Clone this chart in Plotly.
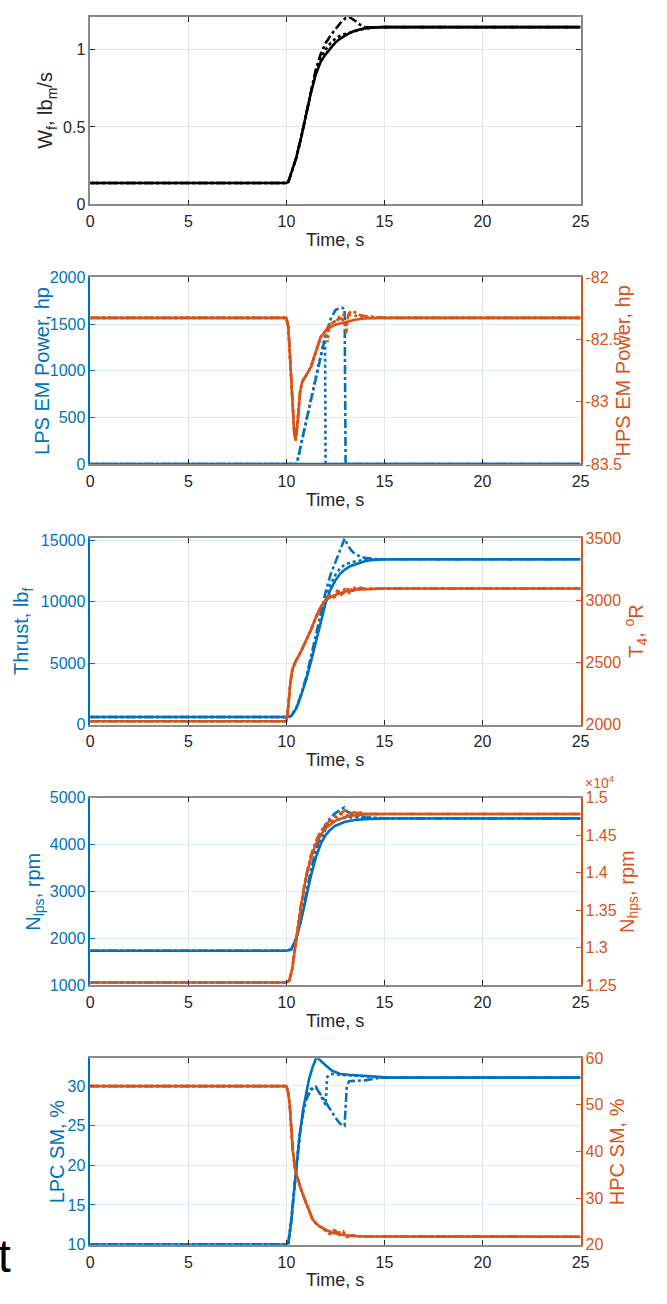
import plotly.graph_objects as go

W, H = 667, 1304
BLUE = "#0072BD"
ORANGE = "#D95319"
INK = "#262626"
FONT = "Liberation Sans, Arial, Helvetica, sans-serif"

# ---------------- data ----------------
time_ticks = [0, 5, 10, 15, 20, 25]

# Panel 1: fuel flow
wf_t = [0, 10, 10.1, 10.25, 10.5, 10.75, 11, 11.25, 11.5, 11.75, 12, 12.25, 12.5, 12.75, 13, 13.25, 13.5, 13.75, 14, 14.5, 15, 25]
wf_solid = [0.138, 0.138, 0.145, 0.2, 0.3, 0.43, 0.58, 0.72, 0.84, 0.92, 0.968, 1.01, 1.045, 1.07, 1.09, 1.108, 1.12, 1.13, 1.136, 1.142, 1.144, 1.144]
wf_dot = [0.138, 0.138, 0.145, 0.2, 0.3, 0.43, 0.58, 0.725, 0.855, 0.945, 1.0, 1.04, 1.07, 1.09, 1.1, 1.108, 1.117, 1.127, 1.135, 1.142, 1.144, 1.144]
wf_dd_t = [0, 10, 10.1, 10.25, 10.5, 10.75, 11, 11.25, 11.5, 11.75, 12, 12.25, 12.5, 12.75, 13, 13.2, 13.5, 13.75, 14, 14.25, 15, 25]
wf_dashdot = [0.138, 0.138, 0.145, 0.2, 0.3, 0.43, 0.58, 0.73, 0.87, 0.97, 1.04, 1.09, 1.13, 1.17, 1.2, 1.21, 1.185, 1.16, 1.145, 1.142, 1.144, 1.144]

# Panel 2: LPS / HPS electric machine power
lps_t = [0, 25]
lps_solid = [0, 0]
lps_dd_t = [0, 10.53, 11, 11.5, 12, 12.25, 12.5, 12.75, 12.97, 13.02, 25]
lps_dashdot = [0, 0, 450, 920, 1380, 1550, 1650, 1675, 1670, 0, 0]
lps_dot_t = [0, 10.53, 11, 11.5, 11.97, 12.0, 25]
lps_dot = [0, 0, 450, 920, 1370, 0, 0]

hps_t = [0, 10, 10.1, 10.25, 10.4, 10.47, 10.55, 10.7, 10.8, 11, 11.25, 11.5, 11.75, 12, 12.25, 12.5, 13, 13.5, 14, 15, 25]
hps_solid = [-82.325, -82.325, -82.4, -82.85, -83.25, -83.31, -83.2, -82.92, -82.84, -82.79, -82.72, -82.6, -82.48, -82.43, -82.4, -82.38, -82.36, -82.34, -82.33, -82.325, -82.325]
hps_dd_t = [0, 10, 10.1, 10.25, 10.4, 10.47, 10.55, 10.7, 10.8, 11, 11.25, 11.5, 11.75, 12, 12.2, 12.4, 12.6, 12.8, 13.0, 13.05, 13.15, 13.3, 13.5, 13.7, 14, 15, 25]
hps_dashdot = [-82.325, -82.325, -82.4, -82.85, -83.25, -83.31, -83.2, -82.92, -82.84, -82.79, -82.72, -82.6, -82.48, -82.43, -82.38, -82.36, -82.34, -82.33, -82.36, -82.45, -82.3, -82.27, -82.28, -82.3, -82.31, -82.325, -82.325]
hps_dot_t = [0, 10, 10.1, 10.25, 10.4, 10.47, 10.55, 10.7, 10.8, 11, 11.25, 11.5, 11.75, 12, 12.1, 12.2, 12.5, 12.8, 13.2, 13.6, 14, 15, 25]
hps_dot = [-82.325, -82.325, -82.4, -82.85, -83.25, -83.31, -83.2, -82.92, -82.84, -82.79, -82.72, -82.6, -82.48, -82.43, -82.52, -82.38, -82.35, -82.3, -82.3, -82.31, -82.32, -82.325, -82.325]

# Panel 3: thrust and T4
thr_t = [0, 10, 10.25, 10.5, 10.75, 11, 11.25, 11.5, 11.75, 12, 12.25, 12.5, 12.75, 13, 13.25, 13.5, 13.75, 14, 14.5, 15, 25]
thr_solid = [620, 620, 700, 1300, 2400, 3600, 5100, 6700, 8400, 9900, 11000, 11750, 12300, 12650, 12900, 13050, 13200, 13300, 13420, 13470, 13470]
thr_dot = [620, 620, 700, 1300, 2400, 3650, 5250, 6950, 8700, 10200, 11400, 12200, 12750, 13050, 13200, 13300, 13370, 13420, 13460, 13470, 13470]
thr_dd_t = [0, 10, 10.25, 10.5, 10.75, 11, 11.25, 11.5, 11.75, 12, 12.25, 12.5, 12.75, 12.97, 13.1, 13.3, 13.5, 13.75, 14, 14.5, 15, 25]
thr_dashdot = [620, 620, 700, 1300, 2450, 3800, 5500, 7200, 9000, 10800, 12200, 13300, 14250, 15150, 14700, 14200, 13900, 13700, 13580, 13490, 13470, 13470]

t4_t = [0, 10, 10.1, 10.2, 10.3, 10.45, 10.75, 11, 11.25, 11.5, 11.75, 12, 12.25, 12.5, 12.75, 13, 13.5, 14, 15, 25]
t4_solid = [2026, 2026, 2150, 2330, 2440, 2500, 2590, 2670, 2760, 2860, 2945, 3000, 3025, 3042, 3058, 3070, 3085, 3090, 3094, 3094]
t4_dd_t = [0, 10, 10.1, 10.2, 10.3, 10.45, 10.75, 11, 11.25, 11.5, 11.75, 12, 12.2, 12.4, 12.6, 12.8, 13.0, 13.2, 13.4, 13.6, 13.8, 14, 15, 25]
t4_dashdot = [2026, 2026, 2150, 2330, 2440, 2500, 2590, 2670, 2760, 2860, 2945, 3000, 3040, 3020, 3075, 3045, 3100, 3060, 3110, 3080, 3100, 3090, 3094, 3094]
t4_dot_t = [0, 10, 10.1, 10.2, 10.3, 10.45, 10.75, 11, 11.25, 11.5, 11.75, 12, 12.3, 12.5, 12.7, 12.9, 13.1, 13.4, 13.7, 14, 15, 25]
t4_dot = [2026, 2026, 2150, 2330, 2440, 2500, 2590, 2670, 2760, 2860, 2945, 3000, 3050, 3030, 3070, 3055, 3090, 3075, 3095, 3090, 3094, 3094]

# Panel 4: shaft speeds
nl_t = [0, 10, 10.25, 10.5, 10.75, 11, 11.25, 11.5, 11.75, 12, 12.25, 12.5, 12.75, 13, 13.5, 14, 15, 25]
nl_solid = [1732, 1732, 1760, 1990, 2380, 2870, 3330, 3720, 4010, 4200, 4320, 4400, 4450, 4485, 4520, 4540, 4553, 4556]
nl_dot = [1732, 1732, 1760, 1995, 2400, 2910, 3400, 3800, 4100, 4320, 4440, 4510, 4550, 4570, 4580, 4570, 4558, 4556]
nl_dd_t = [0, 10, 10.25, 10.5, 10.75, 11, 11.25, 11.5, 11.75, 12, 12.25, 12.5, 12.75, 12.95, 13.1, 13.5, 14, 14.5, 15, 25]
nl_dashdot = [1732, 1732, 1760, 2000, 2420, 2950, 3450, 3880, 4200, 4420, 4570, 4670, 4740, 4790, 4700, 4620, 4580, 4560, 4556, 4556]

nh_t = [0, 10, 10.15, 10.3, 10.5, 10.75, 11, 11.25, 11.5, 11.75, 12, 12.5, 13, 13.5, 14, 15, 25]
nh_solid = [12535, 12535, 12560, 12720, 13100, 13560, 13930, 14190, 14380, 14500, 14590, 14690, 14740, 14765, 14775, 14780, 14780]
nh_dd_t = [0, 10, 10.15, 10.3, 10.5, 10.75, 11, 11.25, 11.5, 11.75, 12, 12.5, 12.8, 13.0, 13.2, 13.4, 13.6, 13.8, 14, 15, 25]
nh_dashdot = [12535, 12535, 12560, 12720, 13100, 13580, 13960, 14230, 14420, 14550, 14640, 14750, 14800, 14830, 14790, 14820, 14790, 14800, 14785, 14780, 14780]
nh_dot_t = [0, 10, 10.15, 10.3, 10.5, 10.75, 11, 11.25, 11.5, 11.75, 12, 12.5, 12.8, 13.1, 13.4, 13.7, 14, 15, 25]
nh_dot = [12535, 12535, 12560, 12720, 13100, 13570, 13945, 14210, 14400, 14520, 14620, 14730, 14780, 14760, 14800, 14780, 14785, 14780, 14780]

# Panel 5: compressor stall margins
lpc_t = [0, 10, 10.1, 10.25, 10.4, 10.5, 10.67, 10.85, 11, 11.15, 11.33, 11.5, 11.6, 11.75, 12, 12.33, 12.75, 13.17, 14, 15, 25]
lpc_solid = [10, 10, 10.2, 13, 17, 19.5, 23.6, 27, 29, 30.8, 32.3, 33.4, 33.5, 33.2, 32.6, 31.9, 31.5, 31.4, 31.25, 31.1, 31.05]
lpc_dd_t = [0, 10, 10.1, 10.25, 10.4, 10.5, 10.67, 10.85, 11, 11.25, 11.5, 11.75, 12, 12.25, 12.5, 12.75, 12.97, 13.08, 13.2, 14, 14.67, 15, 25]
lpc_dashdot = [10, 10, 10.2, 13, 17, 19.5, 23.6, 26.6, 28.2, 29.5, 29.8, 28.9, 28.0, 27.0, 26.0, 25.2, 25.0, 30.0, 30.6, 30.7, 31.0, 31.05, 31.05]
lpc_dot_t = [0, 10, 10.1, 10.25, 10.4, 10.5, 10.67, 10.85, 11, 11.25, 11.5, 11.75, 12.0, 12.08, 12.25, 12.75, 13.5, 14.5, 15, 25]
lpc_dot = [10, 10, 10.2, 13, 17, 19.5, 23.6, 26.7, 28.4, 29.6, 29.9, 28.8, 27.6, 31.1, 31.5, 31.4, 31.3, 31.1, 31.05, 31.05]

hpc_t = [0, 10, 10.1, 10.17, 10.25, 10.33, 10.45, 10.58, 10.75, 11, 11.17, 11.33, 11.5, 11.67, 12, 12.33, 12.75, 13.17, 14, 25]
hpc_solid = [54, 54, 52.5, 50, 45, 40, 36, 34, 31.8, 29, 27, 25.5, 24.6, 24, 23.2, 22.6, 22.2, 21.9, 21.75, 21.7]
hpc_dd_t = [0, 10, 10.1, 10.17, 10.25, 10.33, 10.45, 10.58, 10.75, 11, 11.17, 11.33, 11.5, 11.67, 12, 12.3, 12.5, 12.7, 12.9, 13.1, 13.3, 13.6, 14, 25]
hpc_dashdot = [54, 54, 52.5, 50, 45, 40, 36, 34, 31.8, 29, 27, 25.5, 24.6, 24, 23.2, 22.4, 23.0, 22.1, 22.8, 21.6, 22.0, 21.8, 21.75, 21.7]
hpc_dot_t = [0, 10, 10.1, 10.17, 10.25, 10.33, 10.45, 10.58, 10.75, 11, 11.17, 11.33, 11.5, 11.67, 12, 12.2, 12.4, 12.6, 12.85, 13.05, 13.3, 14, 25]
hpc_dot = [54, 54, 52.5, 50, 45, 40, 36, 34, 31.8, 29, 27, 25.5, 24.6, 24, 23.0, 22.3, 23.1, 22.5, 22.9, 21.8, 22.0, 21.75, 21.7]

# ---------------- layout helpers ----------------
X0, X1 = 88, 588                     # plot area, px
PANELS = [(9, 199), (273, 462), (537, 726), (800, 990), (1064, 1253)]


def xp(px):
    return px / W


def yp(py):
    return 1 - py / H


LW = 2.6
DASHDOT = "9px,3px,3px,3px"

fig = go.Figure()


def add(t, v, color, dash, xa, ya):
    fig.add_trace(go.Scatter(x=t, y=v, mode="lines", xaxis=xa, yaxis=ya,
                             line=dict(color=color, width=LW, dash=dash),
                             showlegend=False, hoverinfo="skip"))


# Panel 1 (black)
add(wf_dd_t, wf_dashdot, "black", DASHDOT, "x", "y")
add(wf_t, wf_dot, "black", "dot", "x", "y")
add(wf_t, wf_solid, "black", "solid", "x", "y")

# Panel 2
add(lps_dd_t, lps_dashdot, BLUE, DASHDOT, "x2", "y2")
add(lps_dot_t, lps_dot, BLUE, "dot", "x2", "y2")
add(lps_t, lps_solid, BLUE, "solid", "x2", "y2")
add(hps_dd_t, hps_dashdot, ORANGE, DASHDOT, "x2", "y3")
add(hps_dot_t, hps_dot, ORANGE, "dot", "x2", "y3")
add(hps_t, hps_solid, ORANGE, "solid", "x2", "y3")

# Panel 3
add(thr_dd_t, thr_dashdot, BLUE, DASHDOT, "x3", "y4")
add(thr_t, thr_dot, BLUE, "dot", "x3", "y4")
add(thr_t, thr_solid, BLUE, "solid", "x3", "y4")
add(t4_dd_t, t4_dashdot, ORANGE, DASHDOT, "x3", "y5")
add(t4_dot_t, t4_dot, ORANGE, "dot", "x3", "y5")
add(t4_t, t4_solid, ORANGE, "solid", "x3", "y5")

# Panel 4
add(nl_dd_t, nl_dashdot, BLUE, DASHDOT, "x4", "y6")
add(nl_t, nl_dot, BLUE, "dot", "x4", "y6")
add(nl_t, nl_solid, BLUE, "solid", "x4", "y6")
add(nh_dd_t, nh_dashdot, ORANGE, DASHDOT, "x4", "y7")
add(nh_dot_t, nh_dot, ORANGE, "dot", "x4", "y7")
add(nh_t, nh_solid, ORANGE, "solid", "x4", "y7")

# Panel 5
add(lpc_dd_t, lpc_dashdot, BLUE, DASHDOT, "x5", "y8")
add(lpc_dot_t, lpc_dot, BLUE, "dot", "x5", "y8")
add(lpc_t, lpc_solid, BLUE, "solid", "x5", "y8")
add(hpc_dd_t, hpc_dashdot, ORANGE, DASHDOT, "x5", "y9")
add(hpc_dot_t, hpc_dot, ORANGE, "dot", "x5", "y9")
add(hpc_t, hpc_solid, ORANGE, "solid", "x5", "y9")

BOX = "#8a8a8a"
GRID = "#e6e6e6"
GRID_B = "#dde9f5"


def x_axis(yname):
    return dict(domain=[xp(X0), xp(X1)], anchor=yname, range=[0, 25],
                tickvals=time_ticks, ticktext=[str(v) for v in time_ticks],
                ticks="inside", ticklen=5, tickcolor=INK, tickwidth=1,
                showline=True, linecolor=BOX, linewidth=1.5, mirror="ticks",
                showgrid=True, gridcolor=GRID, gridwidth=1, zeroline=False,
                tickfont=dict(family=FONT, size=16, color=INK), ticklabelstandoff=2)


def y_left(i, xname, rng, vals, texts, color, grid, mirror=False):
    top, bot = PANELS[i]
    return dict(domain=[yp(bot), yp(top)], anchor=xname, range=rng,
                tickvals=vals, ticktext=texts, ticks="inside", ticklen=5,
                tickcolor=color, showline=True, linecolor=color, linewidth=1.5,
                mirror=mirror, showgrid=True, gridcolor=grid, zeroline=False,
                tickfont=dict(family=FONT, size=16, color=color))


def y_right(i, xname, over, rng, vals, texts):
    top, bot = PANELS[i]
    return dict(domain=[yp(bot), yp(top)], anchor=xname, overlaying=over,
                side="right", range=rng, tickvals=vals, ticktext=texts,
                ticks="inside", ticklen=5, tickcolor=ORANGE, showline=True,
                linecolor=ORANGE, linewidth=1.5, showgrid=False, zeroline=False,
                tickfont=dict(family=FONT, size=16, color=ORANGE))


layout = dict(
    width=W, height=H, margin=dict(l=0, r=0, t=0, b=0),
    paper_bgcolor="white", plot_bgcolor="white", showlegend=False,
    font=dict(family=FONT, color=INK),
    xaxis=x_axis("y"),
    xaxis2=x_axis("y2"),
    xaxis3=x_axis("y4"),
    xaxis4=x_axis("y6"),
    xaxis5=x_axis("y8"),
    yaxis=y_left(0, "x", [0, 1.21], [0, 0.5, 1], ["0", "0.5", "1"], INK, GRID, mirror="ticks"),
    yaxis2=y_left(1, "x2", [0, 2000], [0, 500, 1000, 1500, 2000],
                  ["0", "500", "1000", "1500", "2000"], BLUE, GRID_B),
    yaxis3=y_right(1, "x2", "y2", [-83.5, -82], [-83.5, -83, -82.5, -82],
                   ["-83.5", "-83", "-82.5", "-82"]),
    yaxis4=y_left(2, "x3", [0, 15200], [0, 5000, 10000, 15000],
                  ["0", "5000", "10000", "15000"], BLUE, GRID_B),
    yaxis5=y_right(2, "x3", "y4", [2000, 3500], [2000, 2500, 3000, 3500],
                   ["2000", "2500", "3000", "3500"]),
    yaxis6=y_left(3, "x4", [1000, 5000], [1000, 2000, 3000, 4000, 5000],
                  ["1000", "2000", "3000", "4000", "5000"], BLUE, GRID_B),
    yaxis7=y_right(3, "x4", "y6", [12500, 15000],
                   [12500, 13000, 13500, 14000, 14500, 15000],
                   ["1.25", "1.3", "1.35", "1.4", "1.45", "1.5"]),
    yaxis8=y_left(4, "x5", [10, 33.5], [10, 15, 20, 25, 30],
                  ["10", "15", "20", "25", "30"], BLUE, GRID_B),
    yaxis9=y_right(4, "x5", "y8", [20, 60], [20, 30, 40, 50, 60],
                   ["20", "30", "40", "50", "60"]),
)
fig.update_layout(**layout)
# panel 1 frame: the y axis line is gray like the rest of the box
fig.update_layout(yaxis=dict(linecolor=BOX, tickcolor=INK))

annotations = []


def note(text, x_px, y_px, size, color, angle=0, xanchor="center"):
    annotations.append(dict(text=text, x=xp(x_px), y=yp(y_px), xref="paper", yref="paper",
                            showarrow=False, textangle=angle, xanchor=xanchor, yanchor="middle",
                            font=dict(family=FONT, size=size, color=color)))


for top, bot in PANELS:
    note("Time, s", (X0 + X1) / 2, bot + 36, 18, INK)

mid = [(t + b) / 2 for t, b in PANELS]
note("W<sub>f</sub>, lb<sub>m</sub>/s", 44, mid[0], 20, INK, -90)
note("LPS EM Power, hp", 38, mid[1], 20, BLUE, -90)
note("HPS EM Power, hp", 631, mid[1], 20, ORANGE, -90)
note("Thrust, lb<sub>f</sub>", 19, mid[2], 20, BLUE, -90)
note("T<sub>4</sub>, <sup>o</sup>R", 644, mid[2], 20, ORANGE, -90)
note("N<sub>lps</sub>, rpm", 31, mid[3], 20, BLUE, -90)
note("N<sub>hps</sub>, rpm", 637, mid[3], 20, ORANGE, -90)
note("LPC SM, %", 54, mid[4], 20, BLUE, -90)
note("HPC SM, %", 626, mid[4], 20, ORANGE, -90)
note("×10<sup>4</sup>", 591, 784, 14, ORANGE, xanchor="left")
note("t", 9, 1264, 46, "black", xanchor="right")

fig.update_layout(annotations=annotations)
fig.write_html("out.html")
